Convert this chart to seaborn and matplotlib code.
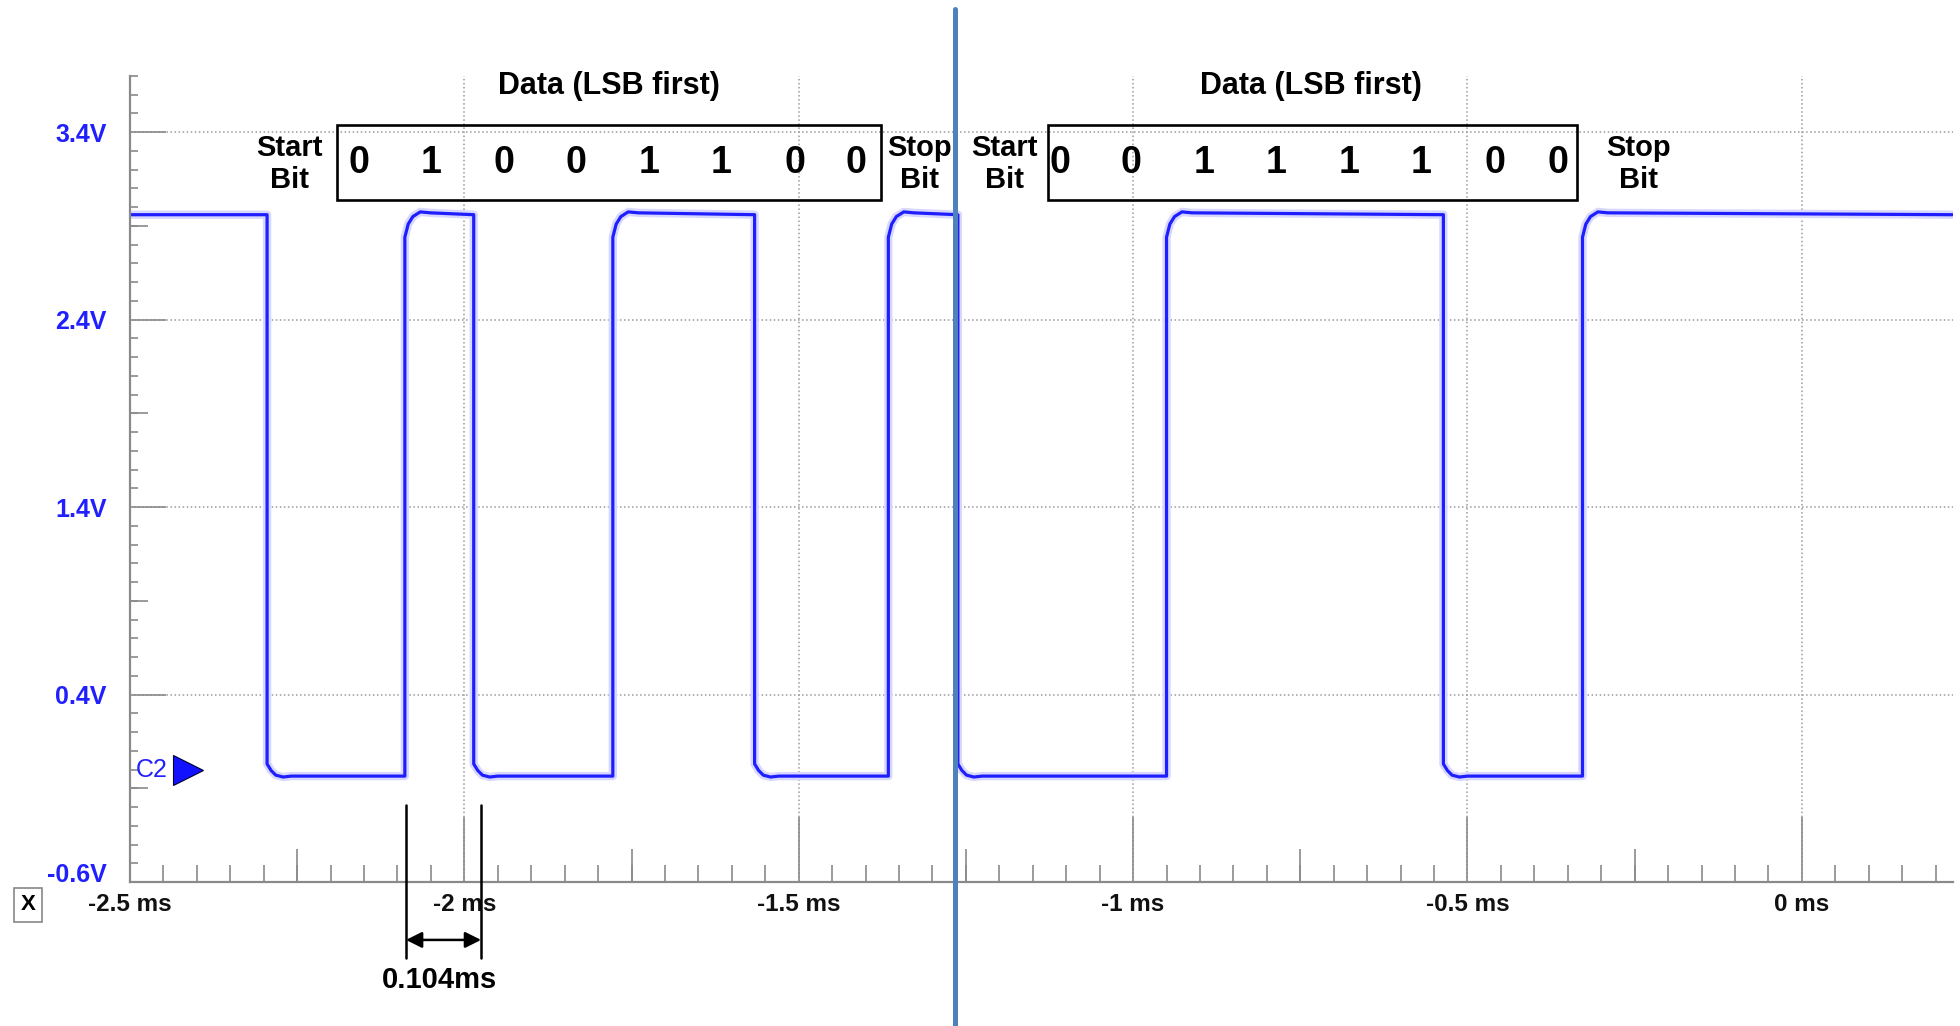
import matplotlib
matplotlib.use("Agg")
import matplotlib.pyplot as plt
import matplotlib.transforms as mtransforms
from matplotlib.patches import Rectangle
from matplotlib.ticker import MultipleLocator
import pandas as pd
import seaborn as sns

# ---------------- data ----------------
edge_times_ms = [-2.295, -2.089, -1.986, -1.778, -1.566, -1.366,
                 -1.262, -0.950, -0.536, -0.328]
edge_kinds = ["fall", "rise", "fall", "rise", "fall", "rise",
              "fall", "rise", "fall", "rise"]
t_start_ms = -2.5
t_end_ms = 0.225
high_level_v = 2.96
low_level_v = -0.035
# rounded corners seen after edges (time offset in ms, volts)
fall_corner_dt = [0.0, 0.006, 0.013, 0.024, 0.036]
fall_corner_v = [0.03, -0.005, -0.03, -0.04, -0.035]
rise_corner_dt = [0.0, 0.005, 0.012, 0.023, 0.038]
rise_corner_v = [2.84, 2.91, 2.95, 2.975, 2.97]

x_major = [-2.5, -2.0, -1.5, -1.0, -0.5, 0.0]
x_labels = ["-2.5 ms", "-2 ms", "-1.5 ms", "-1 ms", "-0.5 ms", "0 ms"]
x_medium = [-2.25, -1.75, -1.25, -0.75, -0.25]
y_major = [-0.6, 0.4, 1.4, 2.4, 3.4]
y_labels = ["-0.6V", "0.4V", "1.4V", "2.4V", "3.4V"]
y_medium = [-0.1, 0.9, 1.9, 2.9]

frame1_bits = ["0", "1", "0", "0", "1", "1", "0", "0"]
frame2_bits = ["0", "0", "1", "1", "1", "1", "0", "0"]
frame1_bit_x = [-2.158, -2.050, -1.941, -1.833, -1.724, -1.616, -1.506, -1.414]
frame2_bit_x = [-1.109, -1.003, -0.894, -0.786, -0.677, -0.569, -0.459, -0.365]
frame_box_x = [(-2.190, -1.377), (-1.128, -0.3355)]
data_title_x = [-1.784, -0.734]
start_bit_x = [-2.261, -1.192]
stop_bit_x = [-1.320, -0.244]
frame_split_x = -1.2664
measure_x = [-2.0873, -1.975]
measure_label = "0.104ms"

# ---------------- build trace ----------------
t = [t_start_ms]
v = [high_level_v]
for te, kind in zip(edge_times_ms, edge_kinds):
    if kind == "fall":
        t.append(te); v.append(high_level_v)
        for dt, vv in zip(fall_corner_dt, fall_corner_v):
            t.append(te + dt); v.append(vv)
    else:
        t.append(te); v.append(low_level_v)
        for dt, vv in zip(rise_corner_dt, rise_corner_v):
            t.append(te + dt); v.append(vv)
t.append(t_end_ms); v.append(high_level_v)
df = pd.DataFrame({"t": t, "v": v})

# ---------------- style ----------------
sns.set_theme(style="white")
plt.rcParams["font.family"] = ["Liberation Sans", "DejaVu Sans"]

W, H = 1960, 1026
fig = plt.figure(figsize=(W / 100, H / 100), dpi=100)
ax = fig.add_axes([130 / W, 144 / H, 1822.5 / W, 806 / H])

BLUE = "#2020ff"
GRAY = "#8a8a8a"

sns.lineplot(data=df, x="t", y="v", sort=False, estimator=None,
             color="#d8d8ff", linewidth=6, ax=ax, zorder=3)
sns.lineplot(data=df, x="t", y="v", sort=False, estimator=None,
             color="#1e1eff", linewidth=2.3, ax=ax, zorder=4)

ax.set_xlim(-2.5, 0.2253)
ax.set_ylim(-0.6, 3.7)
ax.set_xlabel("")
ax.set_ylabel("")

for s in ["top", "right"]:
    ax.spines[s].set_visible(False)
for s in ["left", "bottom"]:
    ax.spines[s].set_color(GRAY)
    ax.spines[s].set_linewidth(1.6)
    ax.spines[s].set_zorder(6)

ax.set_xticks(x_major)
ax.set_xticklabels(x_labels)
ax.set_yticks(y_major)
ax.set_yticklabels(y_labels)
ax.xaxis.set_minor_locator(MultipleLocator(0.05))
ax.yaxis.set_minor_locator(MultipleLocator(0.1))

ax.tick_params(axis="x", which="both", bottom=True, top=False)
ax.tick_params(axis="y", which="both", left=True, right=False)
ax.tick_params(axis="x", which="major", direction="in", length=47, width=1.2,
               color=GRAY, pad=8, labelsize=17.5, labelcolor="#111111")
ax.tick_params(axis="x", which="minor", direction="in", length=12, width=1.2,
               color=GRAY)
ax.tick_params(axis="y", which="major", direction="in", length=26, width=1.2,
               color=GRAY, pad=17, labelsize=18, labelcolor=BLUE)
ax.tick_params(axis="y", which="minor", direction="in", length=6, width=1.2,
               color=GRAY)
for lbl in ax.get_xticklabels():
    lbl.set_fontweight("bold")
for lbl in ax.get_yticklabels():
    lbl.set_fontweight("bold")
ylbls = ax.get_yticklabels()
ylbls[0].set_transform(ylbls[0].get_transform() +
                       mtransforms.ScaledTranslation(0, 7 / 72, fig.dpi_scale_trans))

ax.grid(True, which="major", linestyle=":", color="#9a9a9a", linewidth=1.1)

# medium ticks
secx = ax.secondary_xaxis("bottom")
secx.set_xticks(x_medium)
secx.tick_params(axis="x", direction="in", length=24, width=1.2, color=GRAY,
                 bottom=True, labelbottom=False)
secx.spines["bottom"].set_visible(False)
secy = ax.secondary_yaxis("left")
secy.set_yticks(y_medium)
secy.tick_params(axis="y", direction="in", length=13, width=1.2, color=GRAY,
                 left=True, labelleft=False)
secy.spines["left"].set_visible(False)

# ---------------- annotations ----------------
bit_y = 3.235
for bits, xs in [(frame1_bits, frame1_bit_x), (frame2_bits, frame2_bit_x)]:
    for b, x in zip(bits, xs):
        ax.text(x, bit_y, b, ha="center", va="center", fontsize=27,
                fontweight="bold", color="black", zorder=7)
for (x0, x1) in frame_box_x:
    ax.add_patch(Rectangle((x0, 3.04), x1 - x0, 0.40, fill=False,
                           edgecolor="black", linewidth=1.9, zorder=7))
for x in data_title_x:
    ax.text(x, 3.645, "Data (LSB first)", ha="center", va="center",
            fontsize=22, fontweight="bold", color="black", zorder=7)
for x in start_bit_x:
    ax.text(x, 3.23, "Start\nBit", ha="center", va="center", fontsize=21,
            fontweight="bold", color="black", linespacing=1.2, zorder=7)
for x in stop_bit_x:
    ax.text(x, 3.23, "Stop\nBit", ha="center", va="center", fontsize=21,
            fontweight="bold", color="black", linespacing=1.2, zorder=7)

# channel marker
ax.text(-2.468, 0.0, "C2", ha="center", va="center", fontsize=18, color=BLUE,
        zorder=7)
ax.plot([-2.414], [0.0], marker=">", markersize=22, color="#1212ff",
        markeredgecolor="#000033", markeredgewidth=0.8, clip_on=False, zorder=7)

# measurement of one bit period
for mx in measure_x:
    ax.plot([mx, mx], [-0.189, -1.005], color="black", linewidth=1.8,
            clip_on=False, zorder=8)
ax.annotate("", xy=(measure_x[1], -0.909), xytext=(measure_x[0], -0.909),
            arrowprops=dict(arrowstyle="<|-|>", color="black", lw=1.8,
                            mutation_scale=24, shrinkA=0, shrinkB=0),
            annotation_clip=False, zorder=8)
ax.text(-2.0365, -1.125, measure_label, ha="center", va="center", fontsize=21,
        fontweight="bold", color="black", zorder=8)

# separator between the two captured frames
ax.plot([frame_split_x, frame_split_x], [4.06, -1.40], color="#4f81bd",
        linewidth=3.6, clip_on=False, zorder=9)

# "X" axis box
fig.text(28 / W, 1 - 905 / H, "X", ha="center", va="center", fontsize=16,
         fontweight="bold", color="black",
         bbox=dict(boxstyle="square,pad=0.3", fc="white", ec="#888888", lw=1.2))

fig.savefig("out.png", dpi=100, facecolor="white")
